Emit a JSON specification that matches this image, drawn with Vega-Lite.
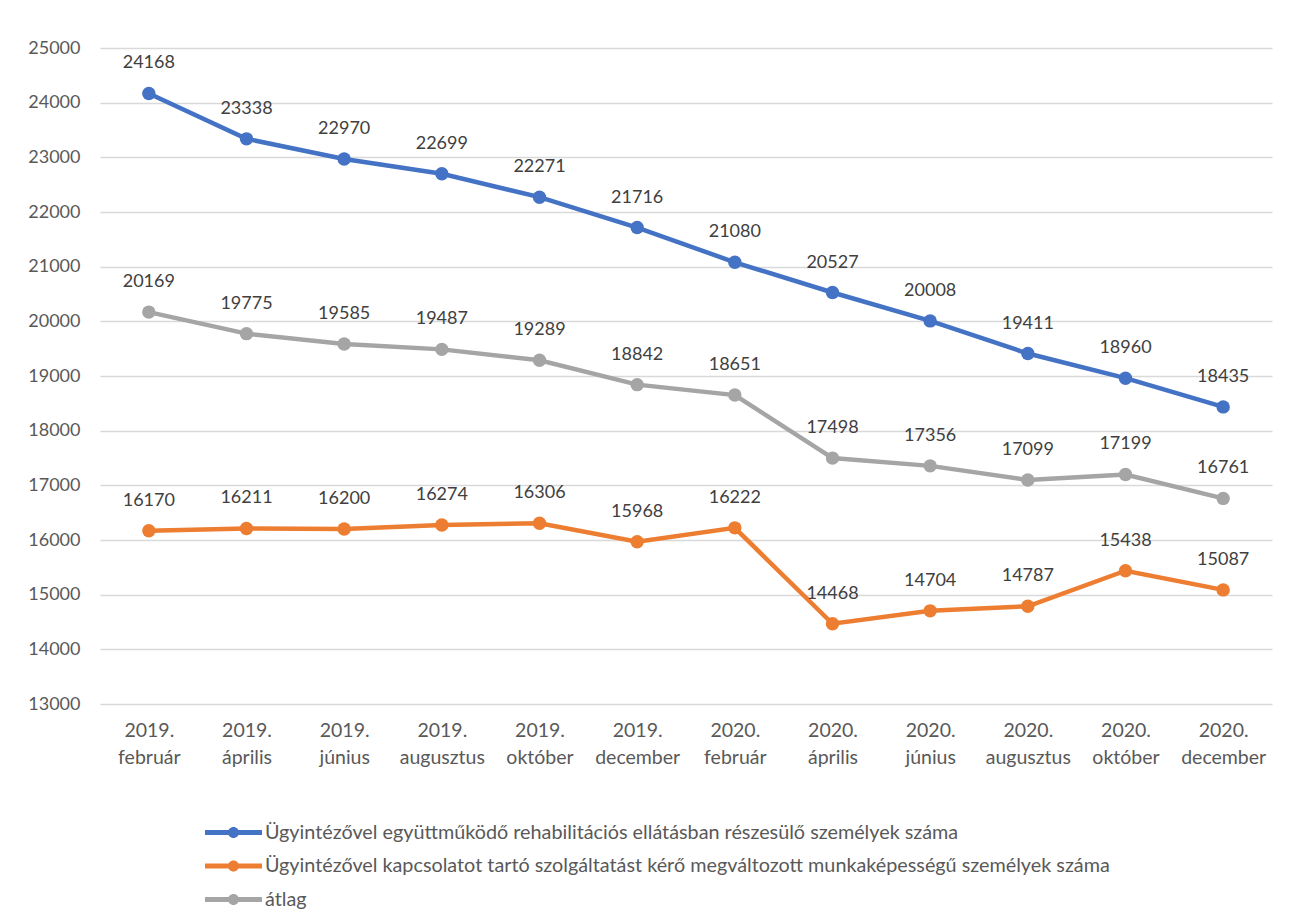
{
  "$schema": "https://vega.github.io/schema/vega-lite/v6.json",
  "width": 1172,
  "height": 656,
  "autosize": {"type": "none"},
  "padding": {"left": 100, "top": 48, "right": 18, "bottom": 211},
  "background": "white",
  "config": {
    "font": "Lato",
    "view": {"stroke": null},
    "axis": {"labelFont": "Lato", "labelFontSize": 18, "labelColor": "#595959", "ticks": false, "domain": false, "title": null}
  },
  "data": {"values": [
    {"ho": "2019. február", "s": "Ügyintézővel együttműködő rehabilitációs ellátásban részesülő személyek száma", "v": 24168},
    {"ho": "2019. április", "s": "Ügyintézővel együttműködő rehabilitációs ellátásban részesülő személyek száma", "v": 23338},
    {"ho": "2019. június", "s": "Ügyintézővel együttműködő rehabilitációs ellátásban részesülő személyek száma", "v": 22970},
    {"ho": "2019. augusztus", "s": "Ügyintézővel együttműködő rehabilitációs ellátásban részesülő személyek száma", "v": 22699},
    {"ho": "2019. október", "s": "Ügyintézővel együttműködő rehabilitációs ellátásban részesülő személyek száma", "v": 22271},
    {"ho": "2019. december", "s": "Ügyintézővel együttműködő rehabilitációs ellátásban részesülő személyek száma", "v": 21716},
    {"ho": "2020. február", "s": "Ügyintézővel együttműködő rehabilitációs ellátásban részesülő személyek száma", "v": 21080},
    {"ho": "2020. április", "s": "Ügyintézővel együttműködő rehabilitációs ellátásban részesülő személyek száma", "v": 20527},
    {"ho": "2020. június", "s": "Ügyintézővel együttműködő rehabilitációs ellátásban részesülő személyek száma", "v": 20008},
    {"ho": "2020. augusztus", "s": "Ügyintézővel együttműködő rehabilitációs ellátásban részesülő személyek száma", "v": 19411},
    {"ho": "2020. október", "s": "Ügyintézővel együttműködő rehabilitációs ellátásban részesülő személyek száma", "v": 18960},
    {"ho": "2020. december", "s": "Ügyintézővel együttműködő rehabilitációs ellátásban részesülő személyek száma", "v": 18435},
    {"ho": "2019. február", "s": "Ügyintézővel kapcsolatot tartó szolgáltatást kérő megváltozott munkaképességű személyek száma", "v": 16170},
    {"ho": "2019. április", "s": "Ügyintézővel kapcsolatot tartó szolgáltatást kérő megváltozott munkaképességű személyek száma", "v": 16211},
    {"ho": "2019. június", "s": "Ügyintézővel kapcsolatot tartó szolgáltatást kérő megváltozott munkaképességű személyek száma", "v": 16200},
    {"ho": "2019. augusztus", "s": "Ügyintézővel kapcsolatot tartó szolgáltatást kérő megváltozott munkaképességű személyek száma", "v": 16274},
    {"ho": "2019. október", "s": "Ügyintézővel kapcsolatot tartó szolgáltatást kérő megváltozott munkaképességű személyek száma", "v": 16306},
    {"ho": "2019. december", "s": "Ügyintézővel kapcsolatot tartó szolgáltatást kérő megváltozott munkaképességű személyek száma", "v": 15968},
    {"ho": "2020. február", "s": "Ügyintézővel kapcsolatot tartó szolgáltatást kérő megváltozott munkaképességű személyek száma", "v": 16222},
    {"ho": "2020. április", "s": "Ügyintézővel kapcsolatot tartó szolgáltatást kérő megváltozott munkaképességű személyek száma", "v": 14468},
    {"ho": "2020. június", "s": "Ügyintézővel kapcsolatot tartó szolgáltatást kérő megváltozott munkaképességű személyek száma", "v": 14704},
    {"ho": "2020. augusztus", "s": "Ügyintézővel kapcsolatot tartó szolgáltatást kérő megváltozott munkaképességű személyek száma", "v": 14787},
    {"ho": "2020. október", "s": "Ügyintézővel kapcsolatot tartó szolgáltatást kérő megváltozott munkaképességű személyek száma", "v": 15438},
    {"ho": "2020. december", "s": "Ügyintézővel kapcsolatot tartó szolgáltatást kérő megváltozott munkaképességű személyek száma", "v": 15087},
    {"ho": "2019. február", "s": "átlag", "v": 20169},
    {"ho": "2019. április", "s": "átlag", "v": 19775},
    {"ho": "2019. június", "s": "átlag", "v": 19585},
    {"ho": "2019. augusztus", "s": "átlag", "v": 19487},
    {"ho": "2019. október", "s": "átlag", "v": 19289},
    {"ho": "2019. december", "s": "átlag", "v": 18842},
    {"ho": "2020. február", "s": "átlag", "v": 18651},
    {"ho": "2020. április", "s": "átlag", "v": 17498},
    {"ho": "2020. június", "s": "átlag", "v": 17356},
    {"ho": "2020. augusztus", "s": "átlag", "v": 17099},
    {"ho": "2020. október", "s": "átlag", "v": 17199},
    {"ho": "2020. december", "s": "átlag", "v": 16761}
  ]},
  "encoding": {
    "x": {
      "field": "ho", "type": "ordinal", "sort": null,
      "scale": {"type": "point", "padding": 0.5},
      "axis": {"labelAngle": 0, "labelFontSize": 19.5, "labelExpr": "split(datum.label, ' ')", "labelLineHeight": 27, "labelPadding": 17, "labelBaseline": "top", "grid": false}
    },
    "y": {
      "field": "v", "type": "quantitative",
      "scale": {"domain": [13000, 25000], "nice": false, "zero": false},
      "axis": {"values": [13000,14000,15000,16000,17000,18000,19000,20000,21000,22000,23000,24000,25000], "format": "d", "grid": true, "gridColor": "#D9D9D9", "gridWidth": 1.3, "labelPadding": 20}
    }
  },
  "layer": [
    {
      "mark": {"type": "line", "strokeWidth": 4.5, "point": {"filled": true, "size": 180, "opacity": 1}},
      "encoding": {
        "color": {
          "field": "s", "type": "nominal", "sort": null,
          "scale": {
            "domain": ["Ügyintézővel együttműködő rehabilitációs ellátásban részesülő személyek száma", "Ügyintézővel kapcsolatot tartó szolgáltatást kérő megváltozott munkaképességű személyek száma", "átlag"],
            "range": ["#4472C4", "#ED7D31", "#A5A5A5"]
          },
          "legend": {
            "title": null, "orient": "none", "legendX": 117, "legendY": 768,
            "direction": "vertical", "padding": 0,
            "symbolType": "M-1.727,-0.152 L-0.3,-0.152 L-0.3,0.152 L-1.727,0.152 Z M0.3,-0.152 L1.727,-0.152 L1.727,0.152 L0.3,0.152 Z M-0.333,0 A0.333,0.333 0 1,1 0.333,0 A0.333,0.333 0 1,1 -0.333,0 Z",
            "symbolSize": 1089, "symbolStrokeWidth": 0, "symbolOpacity": 1,
            "labelFont": "Lato", "labelFontSize": 19.8, "labelColor": "#595959", "labelOffset": 15, "labelLimit": 1000,
            "rowPadding": 6.5
          }
        }
      }
    },
    {
      "mark": {"type": "text", "dy": -30, "font": "Lato", "fontSize": 18, "color": "#404040"},
      "encoding": {
        "text": {"field": "v", "type": "quantitative", "format": "d"},
        "detail": {"field": "s"}
      }
    }
  ]
}
